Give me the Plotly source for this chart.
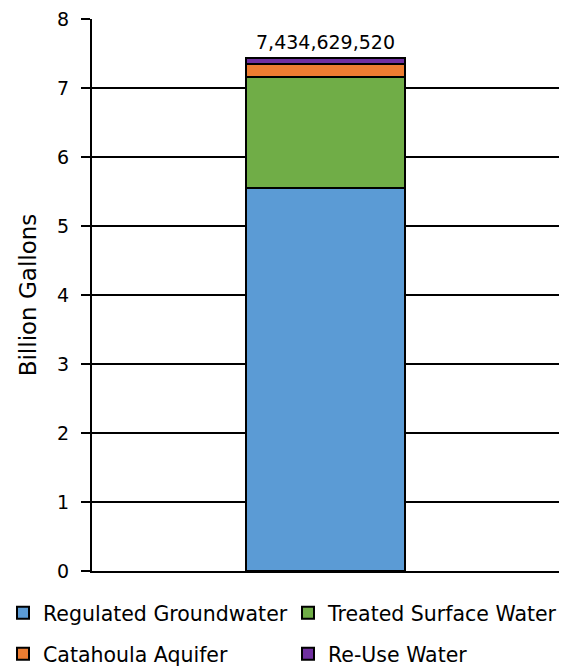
import plotly.graph_objects as go

categories = ["Total"]
series_names = ["Regulated Groundwater", "Treated Surface Water", "Catahoula Aquifer", "Re-Use Water"]
series_values = [[5.55], [1.61], [0.19], [0.0846]]
series_colors = ["#5B9BD5", "#70AD47", "#ED7D31", "#7030A0"]
total_label = "7,434,629,520"
tick_vals = [0, 1, 2, 3, 4, 5, 6, 7, 8]

FONT = "DejaVu Sans"
W, H = 577, 669

# legend slot for each series: (legend id, left px, row centre px)
legend_ids = ["legend", "legend2", "legend3", "legend4"]
legend_left = [3, 288, 3, 288]
legend_row = [613, 613, 654, 654]

fig = go.Figure()
for name, vals, col, lg in zip(series_names, series_values, series_colors, legend_ids):
    fig.add_trace(go.Bar(
        x=categories, y=vals, name=name, legend=lg,
        marker=dict(color=col, line=dict(color="black", width=2)),
        width=0.34,
    ))

total = sum(v[0] for v in series_values)
fig.add_annotation(x=categories[0], y=total, text=total_label, showarrow=False,
                   yanchor="bottom", yshift=3, font=dict(family=FONT, size=19, color="black"))

legends = {}
for lg, lx, ly in zip(legend_ids, legend_left, legend_row):
    legends[lg] = dict(orientation="h", xref="container", yref="container",
                       x=lx / W, y=1 - ly / H,
                       xanchor="left", yanchor="middle",
                       font=dict(family=FONT, size=20.5, color="black"),
                       bgcolor="rgba(0,0,0,0)", borderwidth=0)

fig.update_layout(
    barmode="stack",
    width=W, height=H,
    margin=dict(l=92, r=18, t=19, b=98, autoexpand=False),
    paper_bgcolor="white", plot_bgcolor="white",
    font=dict(family=FONT, size=19, color="black"),
    showlegend=True,
    xaxis=dict(showticklabels=False, showgrid=False, ticks="", showline=True,
               linecolor="black", linewidth=2, range=[-0.5, 0.5], zeroline=False),
    yaxis=dict(range=[0, 8], tickvals=tick_vals, showgrid=True, gridcolor="black",
               gridwidth=1.5, showline=True, linecolor="black", linewidth=2,
               ticks="outside", ticklen=9, tickwidth=1.5, tickcolor="black",
               ticklabelstandoff=8,
               zeroline=False, title=dict(text="Billion Gallons", font=dict(size=23), standoff=14),
               tickfont=dict(size=19)),
    **legends,
)

fig.write_html("out.html", config={"displayModeBar": False},
               post_script="document.body.style.margin='0';")
